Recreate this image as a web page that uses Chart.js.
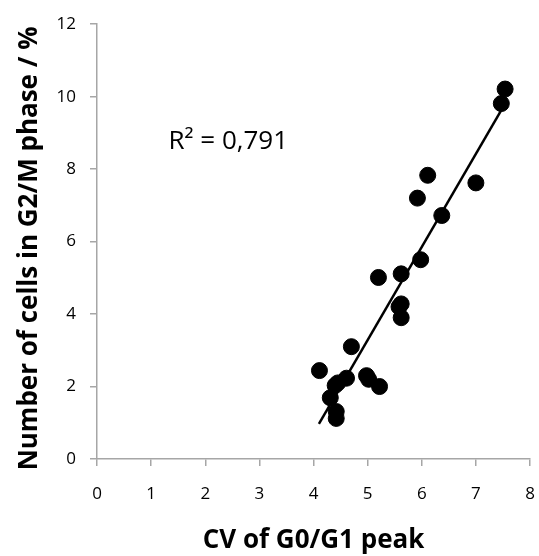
<!DOCTYPE html>
<html>
<head>
<meta charset="utf-8">
<script src="https://cdn.jsdelivr.net/npm/chart.js@4"></script>
<style>
  html, body { margin: 0; padding: 0; background: #fff; }
  #wrap { width: 539px; height: 556px; }
</style>
</head>
<body>
<div id="wrap"><canvas id="chart" width="539" height="556"></canvas></div>
<script>
// values
const cvValues = [7.54, 7.47, 6.11, 5.92, 7.0, 6.37, 5.98, 5.2, 5.62, 5.62, 5.58, 5.62, 4.7, 4.11, 4.4, 4.45, 4.61, 4.98, 5.02, 5.22, 4.31, 4.42, 4.42];
const g2mValues = [10.21, 9.81, 7.83, 7.2, 7.62, 6.72, 5.5, 5.01, 5.11, 4.28, 4.2, 3.9, 3.1, 2.44, 2.03, 2.1, 2.23, 2.3, 2.2, 2.0, 1.69, 1.31, 1.12];

// linear trendline end points (as drawn)
const trendX = [4.1, 7.47];
const trendY = [0.97, 9.63];

const xTicks = [0, 1, 2, 3, 4, 5, 6, 7, 8];
const yTicks = [0, 2, 4, 6, 8, 10, 12];
const rSquaredLabel = 'R\u00b2 = 0,791';

const axisGrey = '#a6a6a6';
const fontFamily = '"Open Sans", "Liberation Sans", sans-serif';

// R² annotation placed in data coordinates
const r2Label = {
  id: 'r2Label',
  afterDatasetsDraw(chart) {
    const { ctx, scales } = chart;
    ctx.save();
    ctx.font = '26px ' + fontFamily;
    ctx.fillStyle = '#000';
    ctx.textAlign = 'left';
    ctx.textBaseline = 'middle';
    ctx.fillText(rSquaredLabel, scales.x.getPixelForValue(1.32), scales.y.getPixelForValue(8.76));
    ctx.restore();
  }
};

new Chart(document.getElementById('chart').getContext('2d'), {
  type: 'scatter',
  data: {
    datasets: [{
      label: 'cells',
      data: cvValues.map((x, i) => ({ x: x, y: g2mValues[i] })),
      backgroundColor: '#000',
      borderColor: '#000',
      pointRadius: 8,
      pointHoverRadius: 8,
      order: 1
    }, {
      label: 'trend',
      type: 'line',
      data: trendX.map((x, i) => ({ x: x, y: trendY[i] })),
      borderColor: '#000',
      borderWidth: 2.5,
      pointRadius: 0,
      fill: false,
      order: 2
    }]
  },
  options: {
    responsive: false,
    animation: false,
    layout: { padding: { top: 24, right: 0, left: 0, bottom: 0 } },
    plugins: {
      legend: { display: false },
      tooltip: { enabled: false }
    },
    scales: {
      x: {
        type: 'linear',
        min: 0,
        max: 8,
        afterBuildTicks: (axis) => { axis.ticks = xTicks.map(v => ({ value: v })); },
        afterFit: (axis) => {
          axis.height = 97;
          // the big tick padding would otherwise squeeze the plot on the right
          axis.paddingLeft = 0;
          axis.paddingRight = 5;
        },
        border: { color: axisGrey, width: 1.5 },
        grid: { display: true, drawOnChartArea: false, color: axisGrey, lineWidth: 1.5, tickLength: 7 },
        ticks: { color: '#000', padding: 18, font: { family: fontFamily, size: 17 }, maxRotation: 0 },
        title: {
          display: true,
          text: 'CV of G0/G1 peak',
          color: '#000',
          padding: { top: 0, bottom: 0 },
          font: { family: fontFamily, size: 26, weight: 'bold' }
        }
      },
      y: {
        type: 'linear',
        min: 0,
        max: 12,
        afterBuildTicks: (axis) => { axis.ticks = yTicks.map(v => ({ value: v })); },
        afterFit: (axis) => { axis.width = 97; },
        border: { color: axisGrey, width: 1.5 },
        grid: { display: true, drawOnChartArea: false, color: axisGrey, lineWidth: 1.5, tickLength: 7 },
        ticks: { color: '#000', padding: 14, font: { family: fontFamily, size: 17 } },
        title: {
          display: true,
          // trailing spaces nudge the centred title down a little, like the original
          text: 'Number of cells in G2/M phase / %\u00a0\u00a0',
          color: '#000',
          padding: { top: 14, bottom: 0 },
          font: { family: fontFamily, size: 26, weight: 'bold' }
        }
      }
    }
  },
  plugins: [r2Label]
});
</script>
</body>
</html>
